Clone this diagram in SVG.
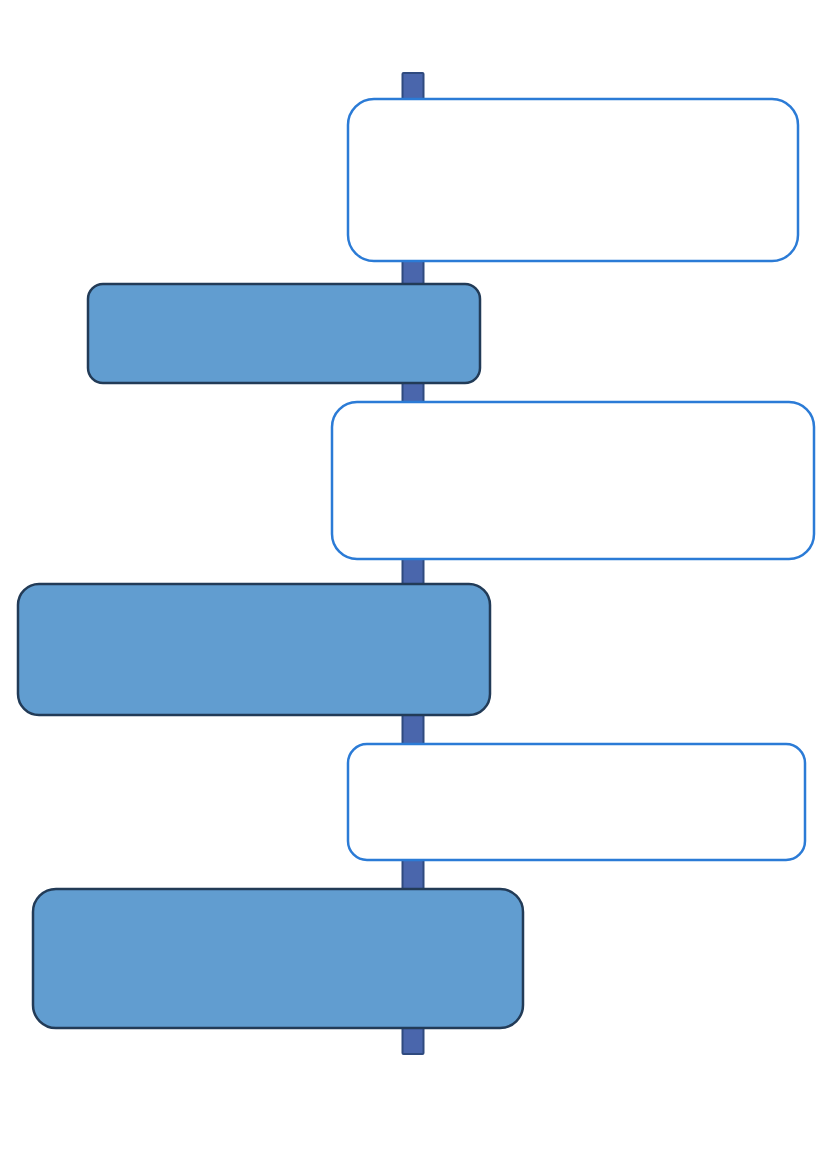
<svg xmlns="http://www.w3.org/2000/svg" width="827" height="1170" viewBox="0 0 827 1170">
<style>
.bar{fill:#4a66ac;stroke:#2f4a7f;stroke-width:2}
.w{fill:#ffffff;stroke:#2b7bd6;stroke-width:2.5}
.b{fill:#619dd0;stroke:#223b57;stroke-width:2.5}
</style>
<rect width="827" height="1170" fill="#ffffff"/>
<g id="connectors">
<rect class="bar" x="402.5" y="73" width="21" height="981" rx="1"/>
</g>
<g id="node1"><rect class="w" x="348" y="99" width="450" height="162" rx="26"/></g>
<g id="node2"><rect class="b" x="88" y="284" width="392" height="99" rx="15"/></g>
<g id="node3"><rect class="w" x="332" y="402" width="482" height="157" rx="25"/></g>
<g id="node4"><rect class="b" x="18" y="584" width="472" height="131" rx="21"/></g>
<g id="node5"><rect class="w" x="348" y="744" width="457" height="116" rx="19"/></g>
<g id="node6"><rect class="b" x="33" y="889" width="490" height="139" rx="23"/></g>
</svg>
